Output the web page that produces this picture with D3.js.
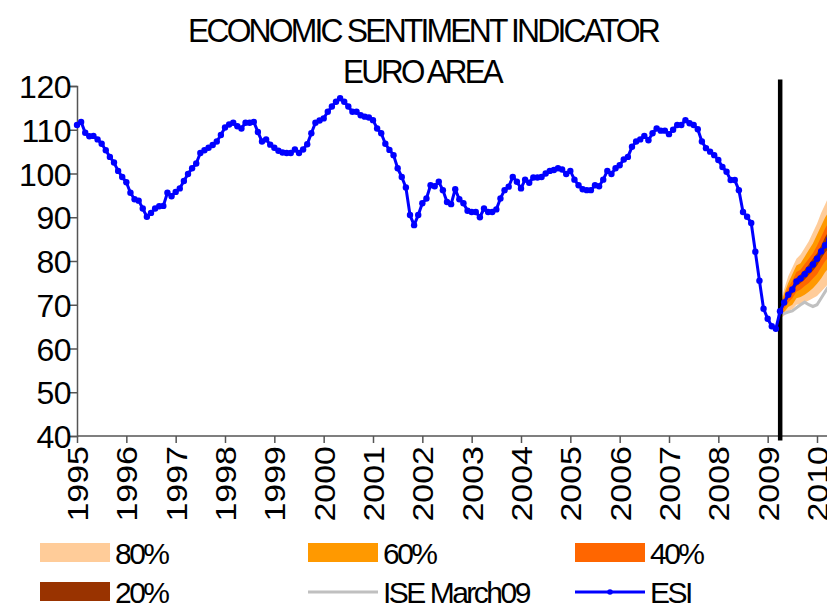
<!DOCTYPE html>
<html>
<head>
<meta charset="utf-8">
<script src="https://cdn.jsdelivr.net/npm/d3@7"></script>
<style>
  body { margin: 0; background: #fff; }
  svg { display: block; font-family: "Liberation Sans", Arial, sans-serif; }
</style>
</head>
<body>
<div id="chart"></div>
<script>
// year tick labels (one tick every 12 months, month 0 = Jan 1995)
const years = [1995, 1996, 1997, 1998, 1999, 2000, 2001, 2002, 2003, 2004, 2005, 2006, 2007, 2008, 2009, 2010];
const yTicks = [40, 50, 60, 70, 80, 90, 100, 110, 120];

// ESI, monthly Jan 1995 .. Mar 2009
const esi = [
  111.1, 111.8, 109.3, 108.5, 108.6, 107.8, 106.8, 105.3, 103.8, 102.5, 100.6, 99.2,
  98.0, 95.6, 94.1, 93.8, 92.0, 90.1, 91.0, 92.0, 92.5, 92.6, 95.6, 94.8,
  95.8, 96.6, 98.3, 99.9, 101.2, 102.3, 104.7, 105.3, 105.9, 106.5, 107.3, 108.8,
  110.5, 111.2, 111.6, 110.8, 110.3, 111.6, 111.6, 111.8, 109.5, 107.3, 107.8, 106.6,
  105.9, 105.2, 104.8, 104.7, 104.7, 105.5, 104.7, 105.5, 106.7, 109.2, 111.6, 112.1,
  112.6, 114.1, 115.3, 116.4, 117.2, 116.4, 115.3, 114.1, 114.1, 113.3, 113.0, 112.8,
  112.2, 110.3, 109.2, 106.8, 105.4, 104.2, 101.2, 99.2, 96.8, 90.5, 88.2, 90.5,
  93.2, 94.3, 97.3, 97.1, 98.1, 96.2, 93.5, 93.0, 96.4, 94.1, 93.2, 91.5,
  91.2, 91.2, 90.0, 92.0, 91.2, 91.2, 91.8, 94.3, 96.2, 97.0, 99.2, 98.1,
  96.6, 98.6, 97.9, 99.1, 99.1, 99.2, 100.0, 100.6, 100.8, 101.2, 100.9, 99.9,
  100.6, 98.6, 97.3, 96.4, 96.2, 96.2, 97.3, 97.1, 98.6, 100.6, 99.9, 101.2,
  101.9, 103.2, 103.8, 106.1, 107.3, 107.8, 108.6, 107.6, 109.2, 110.3, 109.8, 109.8,
  109.0, 110.0, 111.1, 111.1, 112.2, 111.5, 111.1, 110.1, 107.3, 105.8, 105.0, 104.2,
  103.1, 101.5, 100.4, 98.5, 98.5, 96.2, 91.2, 90.1, 88.7, 82.1, 75.5, 69.1,
  66.8, 65.1, 64.5
];

// projection: months 171.. (Apr 2009 ..)
const fcMonths = [171, 172, 173, 174, 175, 176, 177, 178, 179, 180, 181, 182, 183];
const esiFc = [68.5, 70.5, 72.3, 73.5, 75.3, 76.0, 77.0, 78.0, 79.2, 80.5, 82.2, 83.6, 85.0];
const ise    = [67.8, 68.0, 68.3, 68.6, 69.3, 70.0, 70.6, 70.0, 69.6, 70.0, 71.5, 73.0, 74.5];

// fan chart bounds
const fanStart = 170.8;   // month where the vertical line / fan starts
const fanStartValue = 67.7;
const hi80 = [70.5, 73.5, 76.5, 78.5, 80.5, 81.5, 83.0, 84.5, 86.5, 88.5, 91.0, 93.0, 95.0];
const hi60 = [69.8, 72.5, 75.0, 77.0, 79.0, 79.5, 81.0, 82.5, 84.0, 86.0, 88.0, 90.0, 91.5];
const hi40 = [69.3, 71.8, 74.0, 75.5, 77.5, 78.0, 79.3, 80.5, 81.8, 83.5, 85.5, 87.5, 89.0];
const hi20 = [68.9, 71.0, 73.0, 74.3, 76.2, 77.0, 78.0, 79.2, 80.5, 81.8, 83.5, 85.5, 87.0];
const lo20 = [68.0, 69.8, 71.5, 72.5, 74.3, 75.0, 75.8, 76.8, 77.8, 79.0, 80.5, 82.0, 83.0];
const lo40 = [67.6, 69.0, 70.5, 71.5, 73.0, 73.5, 74.3, 75.0, 76.0, 77.0, 78.5, 80.0, 81.0];
const lo60 = [67.2, 68.3, 69.5, 70.0, 71.5, 71.8, 72.3, 73.0, 73.8, 74.8, 76.0, 77.5, 78.5];
const lo80 = [66.8, 67.5, 68.5, 69.0, 70.0, 70.2, 70.5, 71.0, 71.5, 72.0, 73.0, 74.0, 75.0];

const bandNames = ["80%", "60%", "40%", "20%"];
const bandColors = ["#FFCC99", "#FF9900", "#FF6600", "#993300"];

const W = 827, H = 606;
const margin = { left: 77, top: 86, bottom: 170 };

const svg = d3.select("#chart").append("svg")
  .attr("width", W)
  .attr("height", H);

const x = d3.scaleLinear().domain([0, 180]).range([margin.left, 817]);
const y = d3.scaleLinear().domain([40, 120]).range([H - margin.bottom, margin.top]);

// title (condensed, like the original)
svg.append("text")
  .attr("x", 423).attr("y", 42)
  .attr("text-anchor", "middle")
  .attr("textLength", 470).attr("lengthAdjust", "spacingAndGlyphs")
  .style("font-size", "34px")
  .style("letter-spacing", "-3px")
  .text("ECONOMIC SENTIMENT INDICATOR");
svg.append("text")
  .attr("x", 422).attr("y", 83)
  .attr("text-anchor", "middle")
  .attr("textLength", 158).attr("lengthAdjust", "spacingAndGlyphs")
  .style("font-size", "34px")
  .style("letter-spacing", "-3px")
  .text("EURO AREA");

// fan bands, widest first
const bands = [[lo80, hi80], [lo60, hi60], [lo40, hi40], [lo20, hi20]];
bands.forEach((b, k) => {
  const pts = [{ m: fanStart, lo: fanStartValue, hi: fanStartValue }]
    .concat(fcMonths.map((m, i) => ({ m: m, lo: b[0][i], hi: b[1][i] })));
  svg.append("path")
    .datum(pts)
    .attr("fill", bandColors[k])
    .attr("d", d3.area().x(d => x(d.m)).y0(d => y(d.lo)).y1(d => y(d.hi)));
});

// ISE March09
const isePts = [{ m: fanStart, v: fanStartValue }].concat(fcMonths.map((m, i) => ({ m: m, v: ise[i] })));
svg.append("path")
  .datum(isePts)
  .attr("fill", "none")
  .attr("stroke", "#C0C0C0")
  .attr("stroke-width", 3)
  .attr("d", d3.line().x(d => x(d.m)).y(d => y(d.v)));

// axes
const yAxis = svg.append("g")
  .attr("transform", `translate(${margin.left},0)`)
  .call(d3.axisLeft(y).tickValues(yTicks).tickSize(7).tickPadding(4).tickFormat(d3.format("d")));
const xAxis = svg.append("g")
  .attr("transform", `translate(0,${y(40)})`)
  .call(d3.axisBottom(x).tickValues(years.map((yr, i) => i * 12)).tickSize(7).tickFormat((d, i) => years[i]));
xAxis.select(".domain").attr("d", `M${margin.left},0H${W}`);

[xAxis, yAxis].forEach(a => {
  a.select(".domain").attr("stroke", "#555").attr("stroke-width", 1.5);
  a.selectAll(".tick line").attr("stroke", "#555").attr("stroke-width", 1.5);
  a.selectAll("text").attr("fill", "#000")
    .style("font-family", '"Liberation Sans", Arial, sans-serif');
});
yAxis.selectAll(".tick text")
  .style("font-size", "32px")
  .style("letter-spacing", "-0.5px")
  .attr("x", -6)
  .attr("dy", "0.36em");
xAxis.selectAll(".tick text")
  .style("font-size", "34px")
  .attr("transform", "rotate(-90) scale(1,0.86)")
  .attr("text-anchor", "end")
  .attr("x", -10).attr("y", 0).attr("dy", "0.36em");

// vertical line at start of projection
svg.append("line")
  .attr("x1", x(fanStart) + 1).attr("x2", x(fanStart) + 1)
  .attr("y1", y(121.5)).attr("y2", y(39))
  .attr("stroke", "#000").attr("stroke-width", 4.5);

// ESI line with markers (history + projection)
const esiPts = esi.map((v, i) => ({ m: i, v: v }))
  .concat(fcMonths.map((m, i) => ({ m: m, v: esiFc[i] })));
svg.append("path")
  .datum(esiPts)
  .attr("fill", "none")
  .attr("stroke", "#0000FF")
  .attr("stroke-width", 3)
  .attr("stroke-linejoin", "round")
  .attr("d", d3.line().x(d => x(d.m)).y(d => y(d.v)));
svg.append("g").selectAll("circle")
  .data(esiPts)
  .enter().append("circle")
  .attr("cx", d => x(d.m))
  .attr("cy", d => y(d.v))
  .attr("r", 3.2)
  .attr("fill", "#0000FF");

// legend
const legendItems = [
  { name: "80%", type: "rect", color: bandColors[0] },
  { name: "60%", type: "rect", color: bandColors[1] },
  { name: "40%", type: "rect", color: bandColors[2] },
  { name: "20%", type: "rect", color: bandColors[3] },
  { name: "ISE March09", type: "line", color: "#C0C0C0" },
  { name: "ESI", type: "marker", color: "#0000FF" }
];
const legend = svg.selectAll(".legend")
  .data(legendItems)
  .enter().append("g")
  .attr("class", "legend")
  .attr("transform", (d, i) => `translate(${[40, 308, 575][i % 3]},${i < 3 ? 553 : 592})`);

legend.filter(d => d.type === "rect").append("rect")
  .attr("x", 0).attr("y", -10)
  .attr("width", 70).attr("height", 19)
  .attr("fill", d => d.color);
legend.filter(d => d.type !== "rect").append("line")
  .attr("x1", 0).attr("x2", 70)
  .attr("stroke", d => d.color)
  .attr("stroke-width", 3);
legend.filter(d => d.type === "marker").append("circle")
  .attr("cx", 35).attr("r", 2.8)
  .attr("fill", d => d.color);
legend.append("text")
  .attr("x", 75).attr("dy", "0.36em")
  .style("font-size", "30px")
  .style("letter-spacing", "-2.5px")
  .text(d => d.name);
</script>
</body>
</html>
